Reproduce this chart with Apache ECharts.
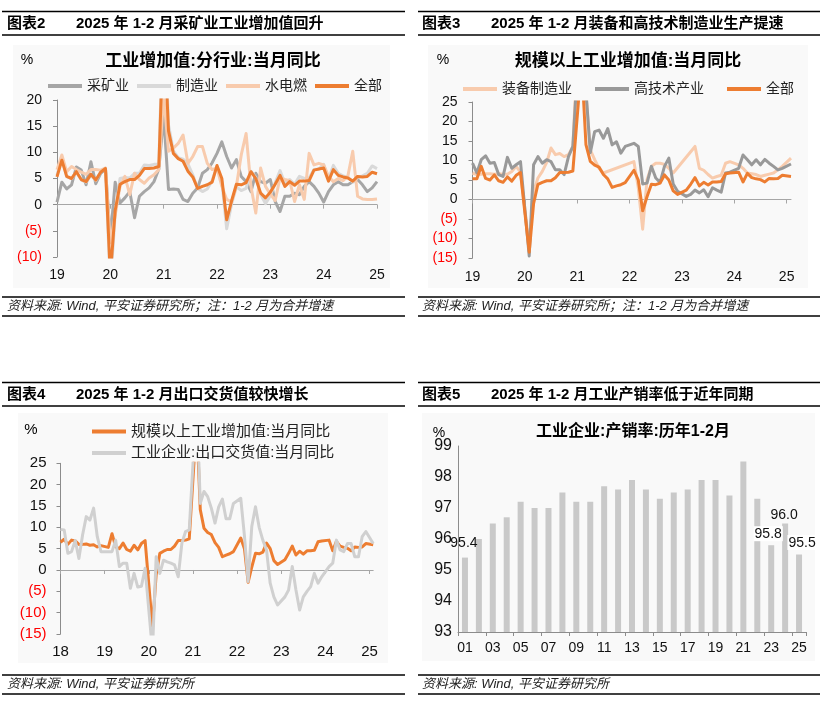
<!DOCTYPE html>
<html><head><meta charset="utf-8">
<script src="https://cdn.jsdelivr.net/npm/echarts@6/dist/echarts.min.js"></script>
<style>html,body{margin:0;padding:0;background:#fff}#c{width:835px;height:707px}</style>
</head><body><div id="c"></div>
<script>
// ===== DATA =====
// Industrial value added, total (当月同比), 11 points per year: Jan-Feb combined, Mar..Dec; 2018 JF .. 2025 JF
const ivaAll = [
  7.2, 6.0, 7.0, 6.8, 6.0, 6.0, 6.1, 5.8, 5.9, 5.4, 5.7,
  5.3, 8.5, 5.4, 5.0, 6.3, 4.8, 4.4, 5.8, 4.7, 6.2, 6.9,
  -13.5, -1.1, 3.9, 4.4, 4.8, 4.8, 5.6, 6.9, 6.9, 7.0, 7.3,
  35.1, 14.1, 9.8, 8.8, 8.3, 6.4, 5.3, 3.1, 3.5, 3.8, 4.3,
  7.5, 5.0, -2.9, 0.7, 3.9, 3.8, 4.2, 6.3, 5.0, 2.2, 1.3,
  2.4, 3.9, 5.6, 3.5, 4.4, 3.7, 4.5, 4.5, 4.6, 6.6, 6.8,
  7.0, 4.5, 6.7, 5.6, 5.3, 5.1, 4.5, 5.4, 5.3, 5.4, 6.2,
  5.9
];
// Chart 1 (图表2): 11 points per year, 2019 JF .. 2025 JF
const c1Mining = [
  0.5, 4.3, 3.0, 3.8, 7.2, 6.6, 3.8, 8.2, 4.0, 6.0, 6.8,
  -6.5, 4.3, 0.3, 1.3, 2.5, -2.5, 1.6, 2.5, 3.2, 4.4, 6.8,
  17.0, 2.9, 3.0, 2.9, 1.0, 0.6, 2.2, 3.2, 6.0, 6.7, 8.0,
  9.8, 12.0, 9.2, 7.0, 8.6, 5.4, 4.4, 2.5, 6.0, 4.4, 4.1,
  4.8, 0.6, -1.3, 1.6, 1.6, 2.2, 1.9, 3.5, 4.4, 3.5, 2.2,
  0.5, 2.5, 3.8, 4.4, 3.8, 3.8, 4.4, 4.8, 3.8, 2.5, 3.2,
  4.4
];
const c1Manuf = [
  5.6, 9.0, 5.3, 5.0, 6.2, 4.7, 4.3, 5.6, 4.6, 6.3, 7.0,
  -15.7, -1.8, 5.0, 5.2, 5.1, 6.0, 6.0, 7.6, 7.5, 7.7, 7.7,
  39.5, 15.2, 10.3, 9.0, 8.7, 7.8, 5.7, 3.1, 2.5, 3.0, 4.6,
  7.3, 4.4, -4.6, 0.1, 3.4, 2.7, 3.1, 6.4, 5.2, 2.0, 0.2,
  1.7, 4.2, 6.5, 4.1, 4.8, 3.9, 5.4, 5.0, 5.1, 6.7, 6.8,
  7.7, 4.9, 7.5, 6.0, 5.5, 5.3, 4.3, 5.2, 5.5, 6.0, 7.4,
  6.9
];
const c1Util = [
  6.7, 9.5, 6.3, 7.3, 6.7, 6.2, 5.8, 6.7, 6.7, 6.6, 7.0,
  -7.3, -2.0, 3.5, 5.4, 1.9, 6.0, 4.8, 4.1, 5.1, 5.7, 6.7,
  21.0, 10.2, 10.8, 11.7, 13.3, 7.9, 9.2, 11.1, 11.1, 7.9, 6.7,
  7.0, 3.5, 1.0, 0.5, 3.5, 9.5, 13.6, 3.5, -1.6, 7.0, 3.5,
  2.0, 0.8, 5.1, 4.8, 4.6, 0.6, 3.8, 1.0, 9.8, 7.6, 7.9,
  7.6, 5.4, 4.4, 5.0, 4.6, 5.5, 10.2, 1.6, 1.1, 1.0, 1.0,
  1.1
];
// Chart 2 (图表3): monthly, 2019-01 .. 2025-02 (January merged into Feb => null)
const c2Equip = [
  6.8, 6.4, 6.5, 6.6, 6.6, 6.5, 6.6, 6.5, 6.5, 7.2, 8.5, 7.0,
  null, -12.0, 2.0, 5.5, 7.2, 9.5, 13.2, 11.5, 11.8, 11.0, 11.5, 13.5,
  null, 59.9, 27.0, 12.7, 10.2, 8.0, 6.8, null, null, null, null, null,
  null, 9.7, 3.0, -7.6, 5.1, 8.5, 9.3, 9.3, 9.0, 8.0, 6.8, null,
  null, null, null, 13.6, 8.0, 7.5, 6.4, 5.5, 5.9, 6.2, 9.3, 9.7,
  null, 8.9, 8.0, 6.8, 6.6, 6.4, 5.9, 6.2, 6.5, 6.8, 7.6, 8.5,
  null, 10.6
];
const c2HiTech = [
  9.3, 6.8, 10.2, 11.2, 9.3, 9.5, 6.4, 5.9, 10.8, 8.0, 8.9, 9.7,
  null, -14.5, 8.9, 11.0, 9.3, 10.2, 9.7, 7.6, 7.6, 6.4, 11.0, 13.6,
  null, 51.6, 28.0, 12.0, 17.4, 17.8, 15.7, 18.2, 14.0, 14.8, 11.9, 13.6,
  null, 14.4, 13.6, 4.0, 4.2, 8.5, 5.5, 4.4, 8.5, 10.6, 4.0, 2.1,
  null, 0.8, 1.3, 2.4, 1.7, 2.5, 0.7, 3.0, 2.4, 1.9, 6.8, 7.0,
  null, 8.0, 11.4, 10.2, 8.9, 10.2, 8.9, 10.3, 9.3, 8.5, 7.6, 8.0,
  null, 9.1
];
const c2IvaJan2019 = 5.3;
// Chart 3 (图表4): monthly, 2018-01 .. 2025-02
const c3Export = [
  9.5, 9.4, 3.9, 4.3, 6.9, 2.7, 8.2, 12.5, 11.7, 14.5, 7.8, 4.3,
  null, 4.3, 4.3, 7.0, 0.8, 1.6, 1.6, -4.3, -0.8, -4.0, -3.8, 0.4,
  null, -19.0, 3.1, -0.8, 2.3, 1.9, 1.6, 1.2, -1.6, 6.3, 9.0, 9.4,
  null, 40.0, 15.6, 18.4, 17.2, 14.5, 11.0, 14.8, 16.6, 12.0, 12.0, 15.6,
  null, 16.8, 8.0, -2.7, 10.2, 14.8, 10.0, 7.0, 4.7, -3.1, -6.3, -8.2,
  null, -6.3, -4.7, 0.8, -4.7, -9.4, -6.3, -5.0, -3.9, -0.8, -3.1, -1.6,
  null, 0.8, 1.6, 7.0, 4.7, 4.3, 6.2, 6.2, 3.1, 3.1, 7.8, 9.0,
  null, 6.2
];
const c3IvaJan2018 = 6.5;
// Chart 4 (图表5): 产销率 历年1-2月, 2001..2025
const barYears = ['01','02','03','04','05','06','07','08','09','10','11','12','13','14','15','16','17','18','19','20','21','22','23','24','25'];
const barValues = [95.4, 96.0, 96.5, 96.7, 97.2, 97.0, 97.0, 97.5, 97.2, 97.2, 97.7, 97.6, 97.9, 97.6, 97.3, 97.5, 97.6, 97.9, 97.9, 97.4, 98.5, 97.3, 95.8, 96.5, 95.5];
const barLabelIdx = [0, 22, 23, 24];
const barLabelText = ['95.4', '95.8', '96.0', '95.5'];

// ===== HELPERS =====
const FF = '"Liberation Sans","Noto Sans CJK SC",sans-serif';
const ORANGE = '#ed7d31', LORANGE = '#f8cbad', GRAY = '#a6a6a6', LGRAY = '#d9d9d9', DGRAY = '#999999', XGRAY = '#d0d0d0';
function cats11(y0, y1) { const o = []; for (let y = y0; y < y1; y++) { o.push(y + '-JF'); for (let m = 3; m <= 12; m++) o.push(y + '-' + String(m).padStart(2, '0')); } o.push(y1 + '-JF'); return o; }
function cats12(y0, y1) { const o = []; for (let y = y0; y < y1; y++) for (let m = 1; m <= 12; m++) o.push(y + '-' + String(m).padStart(2, '0')); o.push(y1 + '-01', y1 + '-02'); return o; }
function to12(arr, firstJan) { const o = []; for (let i = 0; i < arr.length; i += 11) { o.push(i === 0 ? firstJan : null); o.push(...arr.slice(i, i + 11)); } return o; }
const isJF = (i, v) => v.endsWith('-JF');
const isJan = (i, v) => v.endsWith('-01');
const cat1 = cats11(2019, 2025), cat2 = cats12(2019, 2025), cat3 = cats12(2018, 2025);

function yAx(g, min, max, interval, fs, margin) {
  return { type: 'value', gridIndex: g, min, max, interval,
    axisLine: { show: true, lineStyle: { color: '#8c8c8c', width: 1 } },
    axisTick: { show: true, length: 4, lineStyle: { color: '#8c8c8c' } },
    splitLine: { show: false },
    axisLabel: { margin, fontSize: fs, fontFamily: FF, color: '#111',
      formatter: v => v < 0 ? '{n|(' + (-v) + ')}' : String(v),
      rich: { n: { color: '#ff0000', fontSize: fs, fontFamily: FF } } } };
}
function xMain(g, cats, fn) {
  return { type: 'category', gridIndex: g, data: cats, boundaryGap: false, position: 'bottom',
    axisLine: { show: true, onZero: true, lineStyle: { color: '#a6a6a6', width: 1 } },
    axisTick: { show: true, length: 4, interval: fn, lineStyle: { color: '#a6a6a6' } },
    axisLabel: { show: false }, splitLine: { show: false } };
}
function xLab(g, cats, fn, fs, margin) {
  return { type: 'category', gridIndex: g, data: cats, boundaryGap: false, position: 'bottom',
    axisLine: { show: false, onZero: false }, axisTick: { show: false }, splitLine: { show: false },
    axisLabel: { show: true, interval: fn, formatter: v => v.slice(2, 4), fontSize: fs, fontFamily: FF, color: '#111', margin } };
}
function line(name, data, color, xi, yi, w) {
  return { type: 'line', name, data, xAxisIndex: xi, yAxisIndex: yi, color, symbol: 'none', connectNulls: true,
    clip: true, lineStyle: { width: w || 3, color, join: 'round' }, itemStyle: { color }, emphasis: { disabled: true }, animation: false };
}
function rule(x1, x2, y) { return { type: 'line', silent: true, shape: { x1, y1: y, x2, y2: y }, style: { stroke: '#000', lineWidth: 1.3 } }; }
function txt(x, y, text, o) { return { type: 'text', x, y, silent: true, style: Object.assign({ text, fontFamily: FF, fontSize: 14, fill: '#000', align: 'left', verticalAlign: 'middle' }, o || {}) }; }
function bg(x, y, w, h) { return { type: 'rect', silent: true, z: -10, shape: { x, y, width: w, height: h }, style: { fill: '#f9f9f9' } }; }
function legend(names, left, top, gap, fs, orient) {
  return { show: true, data: names, left, top, orient: orient || 'horizontal', itemGap: gap, itemWidth: 34, itemHeight: 4,
    icon: 'rect', selectedMode: false, padding: 0, itemStyle: { borderWidth: 0 },
    textStyle: { fontSize: fs, fontFamily: FF, color: '#222', padding: [0, 0, 0, 0] } };
}

const barData = barValues.map((v, i) => {
  const k = barLabelIdx.indexOf(i);
  if (k < 0) return v;
  const offs = [[-1, -2], [-3, 1], [-1, 3.5], [3, 0.5]][k];
  return { value: v, label: { show: true, position: 'top', distance: 5, offset: offs, formatter: barLabelText[k],
    fontSize: 14, fontFamily: FF, color: '#111', backgroundColor: k === 1 || k === 3 ? '#ffffff' : 'transparent', padding: [1, 1, 0, 1] } };
});

const option = {
  animation: false,
  backgroundColor: '#ffffff',
  grid: [
    { left: 57, top: 100, width: 320, height: 157, containLabel: false, outerBoundsMode: 'none' },
    { left: 472.5, top: 102, width: 318.5, height: 156, containLabel: false, outerBoundsMode: 'none' },
    { left: 60.5, top: 463.3, width: 312.7, height: 170.7, containLabel: false, outerBoundsMode: 'none' },
    { left: 458, top: 446, width: 348, height: 186, containLabel: false, outerBoundsMode: 'none' }
  ],
  xAxis: [
    xMain(0, cat1, isJF), xLab(0, cat1, isJF, 14, 11),
    xMain(1, cat2, isJan), xLab(1, cat2, isJan, 14, 12),
    xMain(2, cat3, isJan), xLab(2, cat3, isJan, 15, 10),
    { type: 'category', gridIndex: 3, data: barYears, boundaryGap: true,
      axisLine: { show: true, lineStyle: { color: '#8c8c8c' } },
      axisTick: { show: true, length: 4, interval: 1, lineStyle: { color: '#8c8c8c' } },
      axisLabel: { interval: 1, fontSize: 14, fontFamily: FF, color: '#111', margin: 9 }, splitLine: { show: false } }
  ],
  yAxis: [
    yAx(0, -10, 20, 5, 14, 15),
    yAx(1, -15, 25, 5, 14, 15),
    yAx(2, -15, 25, 5, 15, 14),
    { type: 'value', gridIndex: 3, min: 93, max: 99, interval: 1,
      axisLine: { show: true, lineStyle: { color: '#8c8c8c' } }, axisTick: { show: false }, splitLine: { show: false },
      axisLabel: { fontSize: 16, fontFamily: FF, color: '#111', margin: 6 } }
  ],
  legend: [
    legend(['采矿业', '制造业', '水电燃', '全部'], 48, 79, 8, 14),
    legend(['装备制造业', '高技术产业', '全部'], 463, 82, 23, 14),
    legend(['规模以上工业增加值:当月同比', '工业企业:出口交货值:当月同比'], 92, 424, 6.5, 15, 'vertical')
  ],
  series: [
    line('采矿业', c1Mining, GRAY, 0, 0),
    line('制造业', c1Manuf, LGRAY, 0, 0),
    line('水电燃', c1Util, LORANGE, 0, 0),
    line('全部', ivaAll.slice(11), ORANGE, 0, 0),
    line('装备制造业', c2Equip, LORANGE, 2, 1),
    line('高技术产业', c2HiTech, DGRAY, 2, 1),
    line('全部', to12(ivaAll.slice(11), c2IvaJan2019), ORANGE, 2, 1),
    line('规模以上工业增加值:当月同比', to12(ivaAll, c3IvaJan2018), ORANGE, 4, 2),
    line('工业企业:出口交货值:当月同比', c3Export, XGRAY, 4, 2),
    { type: 'bar', name: '产销率', data: barData, xAxisIndex: 6, yAxisIndex: 3, barWidth: 6, color: '#c9c9c9',
      itemStyle: { color: '#c9c9c9' }, emphasis: { disabled: true }, animation: false }
  ],
  graphic: { elements: [
    bg(13, 45, 377, 243), bg(428, 45, 380, 243), bg(18, 413, 370, 250), bg(422, 413, 393, 248),
    rule(2, 405, 11.5), rule(2, 405, 35), rule(2, 405, 297), rule(2, 405, 316),
    rule(418, 820, 11.5), rule(418, 820, 35), rule(418, 820, 297), rule(418, 820, 316),
    rule(2, 405, 382.5), rule(2, 405, 406), rule(2, 405, 675), rule(2, 405, 694),
    rule(418, 820, 382.5), rule(418, 820, 406), rule(418, 820, 675), rule(418, 820, 694),
    txt(7, 24, '图表2', { fontSize: 15, fontWeight: 'bold' }),
    txt(76, 24, '2025 年 1-2 月采矿业工业增加值回升', { fontSize: 15, fontWeight: 'bold' }),
    txt(422, 24, '图表3', { fontSize: 15, fontWeight: 'bold' }),
    txt(491, 24, '2025 年 1-2 月装备和高技术制造业生产提速', { fontSize: 15, fontWeight: 'bold' }),
    txt(7, 395, '图表4', { fontSize: 15, fontWeight: 'bold' }),
    txt(76, 395, '2025 年 1-2 月出口交货值较快增长', { fontSize: 15, fontWeight: 'bold' }),
    txt(422, 395, '图表5', { fontSize: 15, fontWeight: 'bold' }),
    txt(491, 395, '2025 年 1-2 月工业产销率低于近年同期', { fontSize: 15, fontWeight: 'bold' }),
    txt(7, 306.5, '资料来源: Wind, 平安证券研究所；注：1-2 月为合并增速', { fontSize: 13, fontStyle: 'italic', fill: '#222' }),
    txt(422, 306.5, '资料来源: Wind, 平安证券研究所；注：1-2 月为合并增速', { fontSize: 13, fontStyle: 'italic', fill: '#222' }),
    txt(7, 684.5, '资料来源: Wind, 平安证券研究所', { fontSize: 13, fontStyle: 'italic', fill: '#222' }),
    txt(422, 684.5, '资料来源: Wind, 平安证券研究所', { fontSize: 13, fontStyle: 'italic', fill: '#222' }),
    txt(213, 61, '工业增加值:分行业:当月同比', { fontSize: 17, fontWeight: 'bold', align: 'center' }),
    txt(628, 61, '规模以上工业增加值:当月同比', { fontSize: 17, fontWeight: 'bold', align: 'center' }),
    txt(633, 432, '工业企业:产销率:历年1-2月', { fontSize: 16, fontWeight: 'bold', align: 'center' }),
    txt(27, 60, '%', { align: 'center' }),
    txt(443, 60, '%', { align: 'center' }),
    txt(31, 430, '%', { align: 'center', fontSize: 15 }),
    txt(439, 433, '%', { align: 'center' })
  ] }
};
const chart = echarts.init(document.getElementById('c'), null, { renderer: 'canvas', devicePixelRatio: 1 });
chart.setOption(option);
</script>
</body></html>
